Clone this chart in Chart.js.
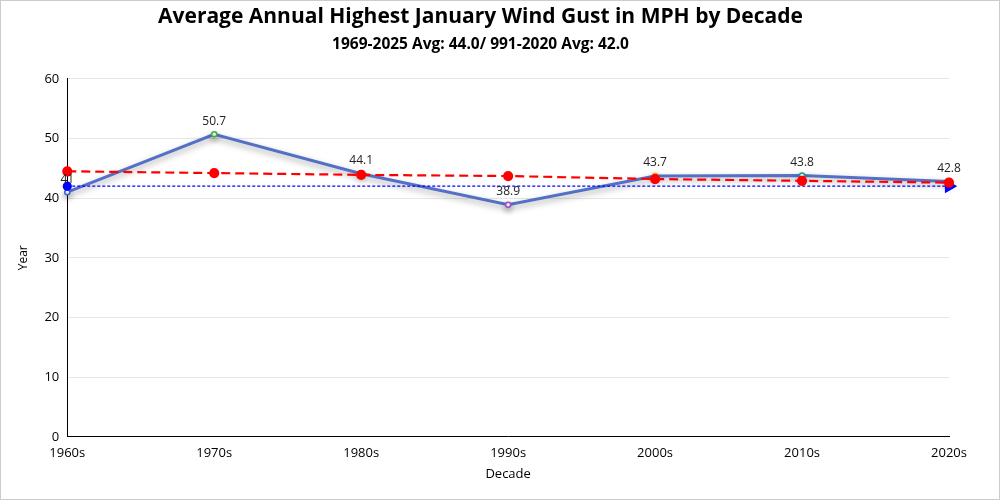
<!DOCTYPE html>
<html>
<head>
<meta charset="utf-8">
<script src="https://cdn.jsdelivr.net/npm/chart.js@4/dist/chart.umd.min.js"></script>
<style>
  html, body { margin: 0; padding: 0; background: #fff; }
  .wrap { width: 1000px; height: 500px; box-sizing: border-box; border: 1px solid #ccc; position: relative; }
</style>
</head>
<body>
<div class="wrap"><canvas id="c"></canvas></div>
<script>
// values
const decades = ['1960s', '1970s', '1980s', '1990s', '2000s', '2010s', '2020s'];
const gustAvg = [41, 50.7, 44.1, 38.9, 43.7, 43.8, 42.8];
const trend = [44.5, 44.2, 43.9, 43.7, 43.2, 42.9, 42.6];
const normal = [42, 42, 42, 42, 42, 42, 42];
const pointColors = ['#3a62d8', '#3cb043', '#e53935', '#9c4dcc', '#f39c12', '#1a9e8f', '#e53935'];

const FONT = "'Open Sans', 'Noto Sans', sans-serif";
Chart.defaults.font.family = FONT;
Chart.defaults.color = '#000';

// soft drop shadow under the main line
const shadow = {
  id: 'shadow',
  beforeDatasetDraw(chart, args) {
    if (args.index !== 2) return;
    const ctx = chart.ctx;
    ctx.save();
    ctx.shadowColor = 'rgba(0,0,0,0.35)';
    ctx.shadowBlur = 6;
    ctx.shadowOffsetY = 3;
  },
  afterDatasetDraw(chart, args) {
    if (args.index !== 2) return;
    chart.ctx.restore();
  },
};

// value labels above main line points
const valueLabels = {
  id: 'valueLabels',
  afterDatasetsDraw(chart) {
    const meta = chart.getDatasetMeta(2);
    const ctx = chart.ctx;
    ctx.save();
    ctx.font = `12px ${FONT}`;
    ctx.fillStyle = '#222';
    ctx.textAlign = 'center';
    ctx.textBaseline = 'bottom';
    meta.data.forEach((pt, i) => {
      ctx.fillText(String(gustAvg[i]), pt.x, pt.y - 7);
    });
    ctx.restore();
  },
};

new Chart(document.getElementById('c'), {
  type: 'line',
  data: {
    labels: decades,
    datasets: [
      {
        data: trend,
        borderColor: '#ff0000',
        borderWidth: 2.2,
        borderDash: [9, 5],
        pointRadius: 4,
        pointBackgroundColor: '#ff0000',
        pointBorderColor: '#ff0000',
        tension: 0,
        clip: false,
      },
      {
        data: normal,
        borderColor: '#0000ff',
        borderWidth: 1.2,
        borderDash: [3, 2],
        pointStyle: normal.map((v, i) => (i === 0 ? 'circle' : i === normal.length - 1 ? 'triangle' : false)),
        rotation: 90,
        pointRadius: normal.map((v, i) => (i === 0 ? 4 : i === normal.length - 1 ? 7 : 0)),
        pointBackgroundColor: '#0000ff',
        pointBorderColor: '#0000ff',
        clip: false,
      },
      {
        data: gustAvg,
        borderColor: '#5470c6',
        borderWidth: 3,
        pointRadius: 2.5,
        pointBorderWidth: 1.5,
        pointBackgroundColor: '#fff',
        pointBorderColor: pointColors,
        tension: 0,
        clip: false,
      },
    ],
  },
  options: {
    responsive: true,
    maintainAspectRatio: false,
    animation: false,
    layout: { padding: { left: 11, right: 50, top: 0, bottom: 13 } },
    plugins: {
      legend: { display: false },
      tooltip: { enabled: false },
      title: {
        display: true,
        text: 'Average Annual Highest January Wind Gust in MPH by Decade',
        font: { size: 21, weight: 'bold' },
        padding: { top: 3, bottom: 6 },
      },
      subtitle: {
        display: true,
        text: '1969-2025 Avg: 44.0/ 991-2020 Avg: 42.0',
        font: { size: 15.5, weight: 'bold' },
        padding: { bottom: 25 },
      },
    },
    scales: {
      x: {
        offset: false,
        grid: { display: false },
        border: { color: '#000', width: 1 },
        ticks: { font: { size: 13 }, maxRotation: 0, padding: 1 },
        title: { display: true, text: 'Decade', font: { size: 13 }, padding: { top: 4 } },
      },
      y: {
        min: 0,
        max: 60,
        ticks: { stepSize: 10, font: { size: 13 }, padding: 8 },
        grid: { color: '#e6e6e6', drawTicks: false },
        border: { color: '#000', width: 1 },
        title: { display: true, text: 'Year', font: { size: 12 }, padding: { bottom: 6 } },
      },
    },
  },
  plugins: [shadow, valueLabels],
});
</script>
</body>
</html>
